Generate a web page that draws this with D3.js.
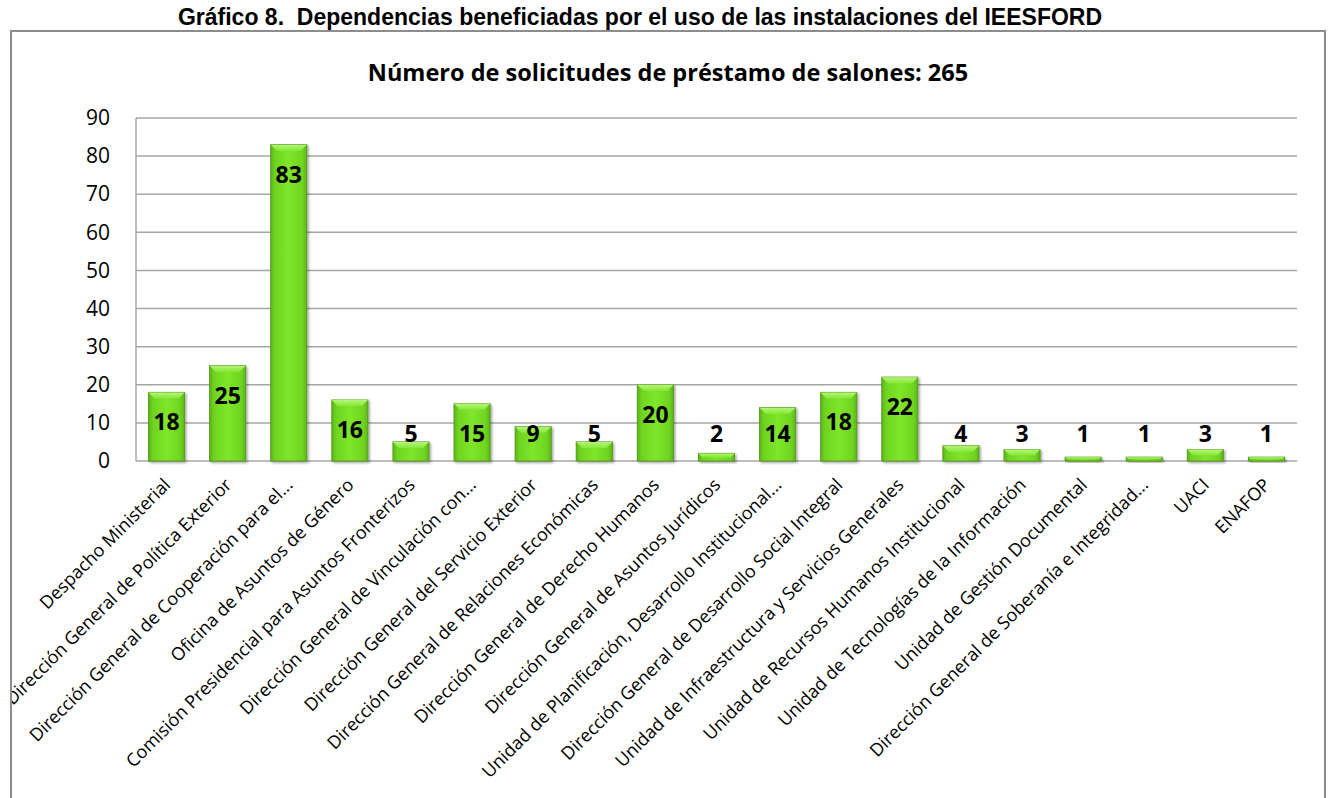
<!DOCTYPE html>
<html>
<head>
<meta charset="utf-8">
<script src="https://cdn.jsdelivr.net/npm/d3@7"></script>
<style>
  body { margin: 0; background: #fff; }
  text { font-family: "Open Sans", sans-serif; }
</style>
</head>
<body>
<script>
// data
var categories = [
  "Despacho Ministerial",
  "Dirección General de Política Exterior",
  "Dirección General de Cooperación para el...",
  "Oficina de Asuntos de Género",
  "Comisión Presidencial para Asuntos Fronterizos",
  "Dirección General de Vinculación con...",
  "Dirección General del Servicio Exterior",
  "Dirección General de Relaciones Económicas",
  "Dirección General de Derecho Humanos",
  "Dirección General de Asuntos Jurídicos",
  "Unidad de Planificación, Desarrollo Institucional...",
  "Dirección General de Desarrollo Social Integral",
  "Unidad de Infraestructura y Servicios Generales",
  "Unidad de Recursos Humanos Institucional",
  "Unidad de Tecnologías de la Información",
  "Unidad de Gestión Documental",
  "Dirección General de Soberanía e Integridad...",
  "UACI",
  "ENAFOP"
];
var solicitudes = [18, 25, 83, 16, 5, 15, 9, 5, 20, 2, 14, 18, 22, 4, 3, 1, 1, 3, 1];
var yTicks = [0, 10, 20, 30, 40, 50, 60, 70, 80, 90];

var data = categories.map(function(c, i){ return {name: c, value: solicitudes[i]}; });

var w = 1329, h = 798;
var svg = d3.select("body").append("svg")
    .attr("width", w)
    .attr("height", h);

// page title above the frame
svg.append("text")
    .attr("x", 640)
    .attr("y", 25)
    .attr("text-anchor", "middle")
    .style("font-family", "'Liberation Sans', Arial, sans-serif")
    .style("font-weight", "bold")
    .style("font-size", "23px")
    .style("white-space", "pre")
    .attr("xml:space", "preserve")
    .text("Gráfico 8.  Dependencias beneficiadas por el uso de las instalaciones del IEESFORD");

// chart frame
svg.append("rect")
    .attr("x", 11).attr("y", 31)
    .attr("width", 1314).attr("height", 790)
    .attr("fill", "none")
    .attr("stroke", "#8c8c8c")
    .attr("stroke-width", 2);

svg.append("clipPath").attr("id", "frameClip")
  .append("rect")
    .attr("x", 12).attr("y", 32)
    .attr("width", 1312).attr("height", 790);

svg.append("text")
    .attr("x", 668)
    .attr("y", 81)
    .attr("text-anchor", "middle")
    .style("font-weight", "bold")
    .style("font-size", "23.5px")
    .text("Número de solicitudes de préstamo de salones: 265");

var x = d3.scaleBand()
    .domain(categories)
    .range([136, 1297])
    .paddingInner(0.41)
    .paddingOuter(0.205);

var y = d3.scaleLinear()
    .domain([0, 90])
    .range([461, 118]);

// gradients for the bevelled bars
var defs = svg.append("defs");
var grad = defs.append("linearGradient").attr("id", "barGrad")
    .attr("x1", "0%").attr("x2", "100%").attr("y1", "0%").attr("y2", "0%");
grad.append("stop").attr("offset", "0%").attr("stop-color", "#5cb51a");
grad.append("stop").attr("offset", "12%").attr("stop-color", "#6fd420");
grad.append("stop").attr("offset", "50%").attr("stop-color", "#7fe62a");
grad.append("stop").attr("offset", "88%").attr("stop-color", "#6fd420");
grad.append("stop").attr("offset", "100%").attr("stop-color", "#5cb51a");

var topGrad = defs.append("linearGradient").attr("id", "topGrad")
    .attr("x1", "0%").attr("x2", "0%").attr("y1", "0%").attr("y2", "100%");
topGrad.append("stop").attr("offset", "0%").attr("stop-color", "#b4f57a");
topGrad.append("stop").attr("offset", "100%").attr("stop-color", "#86e838");

var shadow = defs.append("filter").attr("id", "shadow")
    .attr("x", "-20%").attr("y", "-20%").attr("width", "150%").attr("height", "150%");
shadow.append("feDropShadow")
    .attr("dx", 1.5).attr("dy", 1.5).attr("stdDeviation", 1.2)
    .attr("flood-color", "#000").attr("flood-opacity", 0.35);

// gridlines
svg.append("g")
  .selectAll("line")
  .data(yTicks)
  .enter()
  .append("line")
    .attr("x1", 136).attr("x2", 1297)
    .attr("y1", function(d){ return y(d); })
    .attr("y2", function(d){ return y(d); })
    .attr("stroke", "#a6a6a6")
    .attr("stroke-width", 1.5);

svg.append("line")
    .attr("x1", 136).attr("x2", 136)
    .attr("y1", y(90)).attr("y2", y(0))
    .attr("stroke", "#a6a6a6")
    .attr("stroke-width", 1.5);

// y axis labels
var yAxis = d3.axisLeft(y).tickValues(yTicks).tickSize(0).tickPadding(26);
var yg = svg.append("g").attr("transform", "translate(136,0)").call(yAxis);
yg.select(".domain").remove();
yg.selectAll("text")
    .style("font-family", "'Open Sans', sans-serif")
    .style("font-size", "21px")
    .attr("fill", "#000");

// bars
var bars = svg.append("g").selectAll(".bar")
  .data(data)
  .enter()
  .append("g")
    .attr("class", "bar");

bars.append("rect")
    .attr("x", function(d){ return x(d.name); })
    .attr("y", function(d){ return y(d.value); })
    .attr("width", x.bandwidth())
    .attr("height", function(d){ return y(0) - y(d.value); })
    .attr("fill", "url(#barGrad)")
    .attr("stroke", "#5a9a22")
    .attr("stroke-width", 1)
    .attr("filter", "url(#shadow)");

// bevel highlight on top of each bar
bars.append("path")
    .attr("d", function(d){
      var x0 = x(d.name), x1 = x0 + x.bandwidth(), t = y(d.value);
      var bev = Math.min(6, (y(0) - t) / 2);
      return "M" + x0 + "," + t + "L" + x1 + "," + t + "L" + (x1 - bev) + "," + (t + bev) +
             "L" + (x0 + bev) + "," + (t + bev) + "Z";
    })
    .attr("fill", "url(#topGrad)");

// value labels
bars.append("text")
    .attr("x", function(d){ return x(d.name) + x.bandwidth() / 2; })
    .attr("y", function(d){ return Math.min(y(d.value) + 30, y(0) - 27) + 8; })
    .attr("text-anchor", "middle")
    .style("font-weight", "bold")
    .style("font-size", "23px")
    .text(function(d){ return d.value; });

// rotated category labels
svg.append("g")
    .attr("clip-path", "url(#frameClip)")
  .selectAll("text")
  .data(categories)
  .enter()
  .append("text")
    .attr("text-anchor", "end")
    .attr("transform", function(d){
      return "translate(" + (x(d) + x.bandwidth() / 2 + 5) + ",486) rotate(-45)";
    })
    .style("font-size", "18px")
    .text(function(d){ return d; });
</script>
</body>
</html>
